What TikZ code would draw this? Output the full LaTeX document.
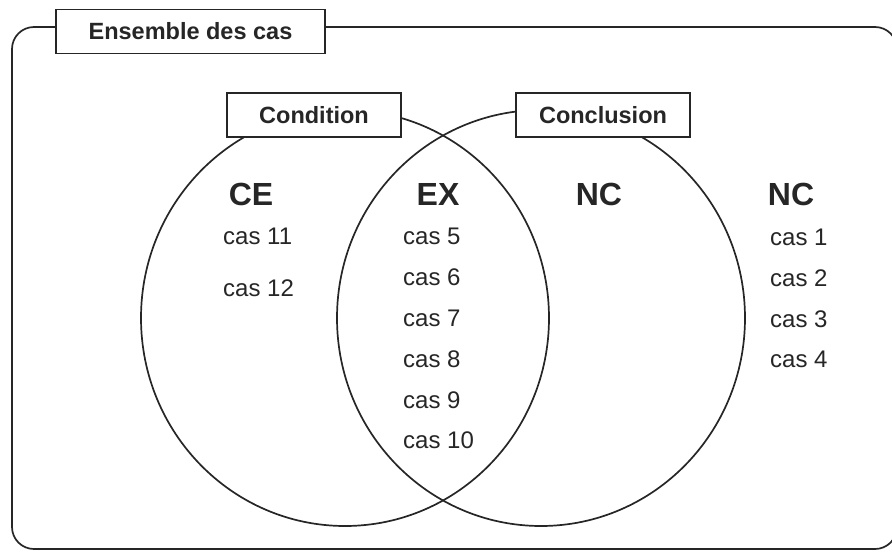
\documentclass[tikz,border=0pt]{standalone}
\usepackage{fontspec}
\setmainfont{Liberation Sans}
\begin{document}
\begin{tikzpicture}[x=1pt,y=-1pt,
  ink/.style={draw=black!85, line width=1.7pt},
  labelbox/.style={ink, fill=white, inner sep=0pt, minimum height=44pt,
    font=\fontsize{23.5}{27}\selectfont\bfseries, text=black!85},
  region/.style={anchor=base, inner sep=0pt,
    font=\fontsize{32}{36}\selectfont\bfseries, text=black!85},
  item/.style={anchor=base west, inner sep=0pt,
    font=\fontsize{24}{28}\selectfont, text=black!85}]
\useasboundingbox (0,0) rectangle (892,552);
% outer universe
\begin{scope}
\clip (0,0) rectangle (892,552);
\draw[ink, rounded corners=22pt] (12,27) rectangle (897,549);
\end{scope}
% the two sets
\draw[ink] (345,318) ellipse [x radius=204, y radius=208];
\draw[ink] (541,318) ellipse [x radius=204, y radius=208];
% labels in boxes
\node[labelbox, minimum width=269pt] (ensemble) at (190.5,31.5) {Ensemble des cas};
\node[labelbox, minimum width=174pt] (condition) at (314,115) {Condition};
\node[labelbox, minimum width=174pt] (conclusion) at (603,115) {Conclusion};
% region names
\node[region] (ce) at (251,205) {CE};
\node[region] (ex) at (438,205) {EX};
\node[region] (nc1) at (599,205) {NC};
\node[region] (nc2) at (791,205) {NC};
% cases
\node[item] (c11) at (223,244) {cas 11};
\node[item] (c12) at (223,296) {cas 12};
\node[item] (c5) at (403,244) {cas 5};
\node[item] (c6) at (403,285) {cas 6};
\node[item] (c7) at (403,326) {cas 7};
\node[item] (c8) at (403,367) {cas 8};
\node[item] (c9) at (403,408) {cas 9};
\node[item] (c10) at (403,448) {cas 10};
\node[item] (c1) at (770,245) {cas 1};
\node[item] (c2) at (770,286) {cas 2};
\node[item] (c3) at (770,327) {cas 3};
\node[item] (c4) at (770,367) {cas 4};
\end{tikzpicture}
\end{document}
